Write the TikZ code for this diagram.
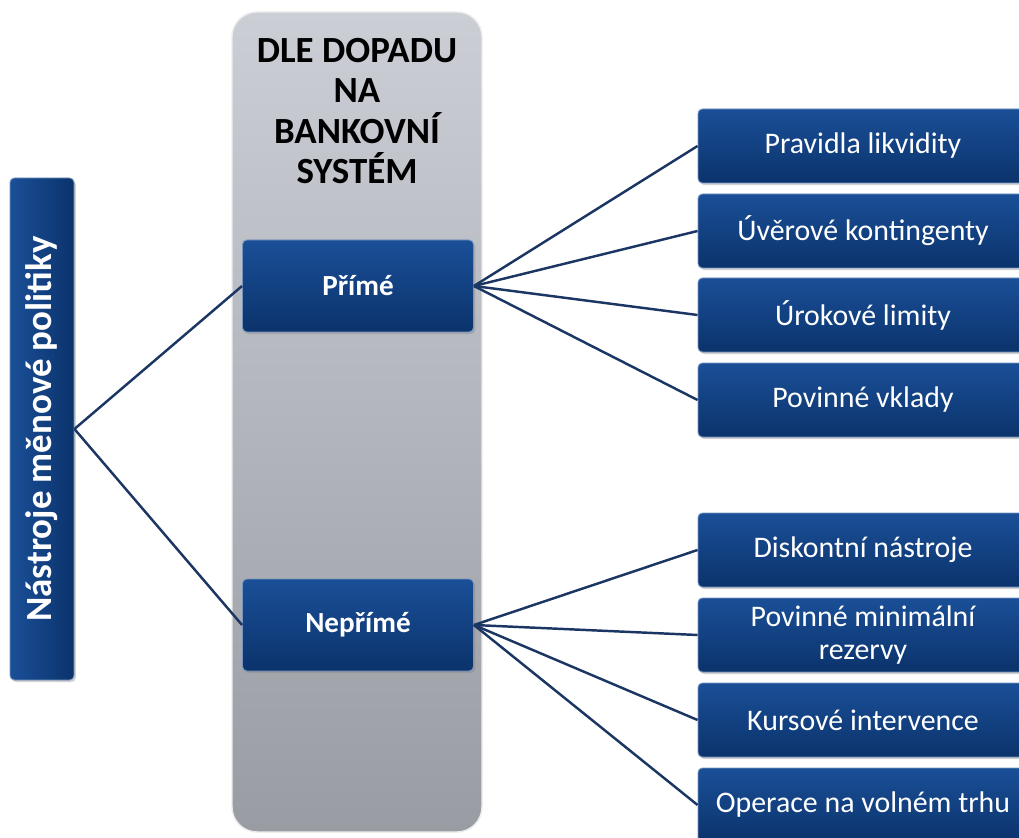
\documentclass[tikz,border=0pt]{standalone}
\usepackage{fontspec}
\setmainfont{Carlito}
\usetikzlibrary{positioning, shadows}

\definecolor{boxtop}{HTML}{1A4F97}
\definecolor{boxbot}{HTML}{0B336C}
\definecolor{linkblue}{HTML}{1C3663}
\definecolor{coltop}{HTML}{CBCED5}
\definecolor{colbot}{HTML}{9A9CA4}
\newcommand{\px}{0.02cm}

\begin{document}
\begin{tikzpicture}[x=\px, y=-\px,
    box/.style={rounded corners=2.5pt, top color=boxtop, bottom color=boxbot,
        draw=boxtop!60!white, line width=0.5pt, text=white,
        drop shadow={opacity=0.35, shadow xshift=1pt, shadow yshift=-1.2pt}},
    rbox/.style={box, minimum width=330*\px, minimum height=74*\px,
        align=center, font=\fontsize{17}{19}\selectfont},
    mbox/.style={box, minimum width=231*\px, minimum height=92*\px,
        font=\bfseries\fontsize{16.6}{18}\selectfont},
    link/.style={draw=linkblue, line width=1.4pt}]
            \clip (0,0) rectangle (1019,838);
            \fill[white] (0,0) rectangle (1019,838);

            % gray column
            \node[rounded corners=0.5cm, top color=coltop, bottom color=colbot,
                draw=white!85!gray, line width=0.8pt,
                minimum width=250*\px, minimum height=820*\px] (dopad) at (357,422) {};
            \node[align=center, font=\bfseries\fontsize{21}{23}\selectfont] (titulek) at (357,111)
                {DLE DOPADU\\NA\\BANKOVNÍ\\SYSTÉM};

            \node[box, rotate=90, minimum width=502*\px, minimum height=64*\px,
                shading angle=90, font=\bfseries\fontsize{21}{23}\selectfont] (nastroje) at (42,429)
                {Nástroje měnové politiky};

            \node[mbox] (prime) at (358,286) {Přímé};
            \node[mbox] (neprime) at (358,625) {Nepřímé};

            \node[rbox] (p1) at (863,146) {Pravidla likvidity};
            \node[rbox] (p2) at (863,231) {Úvěrové kontingenty};
            \node[rbox] (p3) at (863,315) {Úrokové limity};
            \node[rbox] (p4) at (863,400) {Povinné vklady};

            \node[rbox] (n1) at (863,550) {Diskontní nástroje};
            \node[rbox] (n2) at (863,635) {Povinné minimální\\rezervy};
            \node[rbox] (n3) at (863,720) {Kursové intervence};
            \node[rbox] (n4) at (863,805) {Operace na volném trhu};

            % Connections: root to groups
            \draw[link] (nastroje.south) -- (prime.west);
            \draw[link] (nastroje.south) -- (neprime.west);

            % Connections: groups to tools
            \draw[link] (prime.east) -- (p1.west);
            \draw[link] (prime.east) -- (p2.west);
            \draw[link] (prime.east) -- (p3.west);
            \draw[link] (prime.east) -- (p4.west);

            \draw[link] (neprime.east) -- (n1.west);
            \draw[link] (neprime.east) -- (n2.west);
            \draw[link] (neprime.east) -- (n3.west);
            \draw[link] (neprime.east) -- (n4.west);
        \end{tikzpicture}
\end{document}
